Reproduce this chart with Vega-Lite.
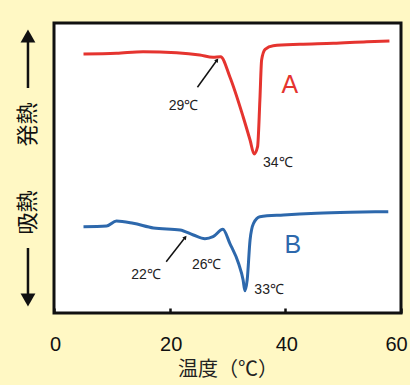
{
  "$schema": "https://vega.github.io/schema/vega-lite/v6.json",
  "width": 347,
  "height": 290,
  "autosize": {"type": "none"},
  "padding": {"left": 54, "top": 23, "right": 9, "bottom": 72},
  "background": "#FFF8C4",
  "config": {
    "view": {"stroke": "#111", "strokeWidth": 3, "fill": "white"}
  },
  "datasets": {
    "curves": [
      {"s": "A", "t": 5.1, "v": 259},
      {"s": "A", "t": 10.8, "v": 259.7},
      {"s": "A", "t": 15.4, "v": 261.3},
      {"s": "A", "t": 21.2, "v": 260.3},
      {"s": "A", "t": 25.2, "v": 258},
      {"s": "A", "t": 27.5, "v": 255.7},
      {"s": "A", "t": 28.8, "v": 256.3},
      {"s": "A", "t": 30.4, "v": 236.3},
      {"s": "A", "t": 32.7, "v": 196.3},
      {"s": "A", "t": 33.9, "v": 173},
      {"s": "A", "t": 34.6, "v": 159},
      {"s": "A", "t": 35.2, "v": 166.3},
      {"s": "A", "t": 35.6, "v": 213},
      {"s": "A", "t": 35.9, "v": 253},
      {"s": "A", "t": 36.5, "v": 263.7},
      {"s": "A", "t": 37.9, "v": 267.3},
      {"s": "A", "t": 42.5, "v": 268.7},
      {"s": "A", "t": 48.3, "v": 269.7},
      {"s": "A", "t": 54.1, "v": 271.3},
      {"s": "A", "t": 58.0, "v": 272},
      {"s": "B", "t": 5.1, "v": 86.3},
      {"s": "B", "t": 9.1, "v": 87},
      {"s": "B", "t": 10.8, "v": 92},
      {"s": "B", "t": 13.7, "v": 89.7},
      {"s": "B", "t": 17.2, "v": 85},
      {"s": "B", "t": 21.8, "v": 83},
      {"s": "B", "t": 24.1, "v": 78},
      {"s": "B", "t": 26.1, "v": 74.3},
      {"s": "B", "t": 27.5, "v": 76.3},
      {"s": "B", "t": 29.2, "v": 83.7},
      {"s": "B", "t": 30.4, "v": 69.7},
      {"s": "B", "t": 31.9, "v": 49.7},
      {"s": "B", "t": 32.7, "v": 33},
      {"s": "B", "t": 33.0, "v": 22.3},
      {"s": "B", "t": 33.4, "v": 33},
      {"s": "B", "t": 33.9, "v": 73},
      {"s": "B", "t": 34.5, "v": 89.7},
      {"s": "B", "t": 35.6, "v": 96.3},
      {"s": "B", "t": 39.7, "v": 98},
      {"s": "B", "t": 45.4, "v": 99.7},
      {"s": "B", "t": 51.2, "v": 100.7},
      {"s": "B", "t": 57.8, "v": 101.3}
    ],
    "arrows": [
      {"t": 24.8, "v": 225.7, "t2": 28.2, "v2": 253, "ang": 36},
      {"t": 19.4, "v": 51.3, "t2": 22.7, "v2": 75.7, "ang": 38}
    ],
    "sideArrows": [
      {"t": -4.5, "v": 225, "t2": -4.5, "v2": 276, "hv": 277, "shape": "triangle-up"},
      {"t": -4.5, "v": 65, "t2": -4.5, "v2": 14, "hv": 13, "shape": "triangle-down"}
    ],
    "notes": [
      {"label": "29℃", "t": 22.4, "v": 207},
      {"label": "34℃", "t": 38.7, "v": 149.7},
      {"label": "22℃", "t": 15.9, "v": 38},
      {"label": "26℃", "t": 26.4, "v": 48},
      {"label": "33℃", "t": 37.2, "v": 23}
    ],
    "names": [
      {"s": "A", "t": 40.8, "v": 228},
      {"s": "B", "t": 41.3, "v": 68}
    ]
  },
  "layer": [
    {
      "data": {"name": "curves"},
      "mark": {"type": "line", "strokeWidth": 3, "interpolate": "monotone"},
      "encoding": {
        "x": {
          "field": "t", "type": "quantitative",
          "scale": {"domain": [0, 60], "nice": false},
          "axis": {
            "values": [0, 20, 40, 60],
            "domain": false,
            "grid": false,
            "tickSize": -5,
            "tickWidth": 2.5,
            "tickColor": "#111",
            "labelFont": "Liberation Sans",
            "labelFontSize": 20,
            "labelColor": "#111",
            "labelPadding": 26,
            "labelFlush": false,
            "labelOffset": {"condition": {"test": "datum.value == 60", "value": -5}, "value": 1},
            "title": "温度（℃）",
            "titleFont": "Noto Sans CJK JP",
            "titleFontSize": 20,
            "titleFontWeight": "normal",
            "titleColor": "#222",
            "titlePadding": 5
          }
        },
        "y": {
          "field": "v", "type": "quantitative",
          "scale": {"domain": [0, 290], "nice": false, "zero": false},
          "axis": {
            "domain": false, "ticks": false, "labels": false, "grid": false,
            "title": "吸熱　　発熱",
            "titleFont": "Noto Sans CJK JP",
            "titleFontSize": 22,
            "titleFontWeight": "normal",
            "titleColor": "#111",
            "titlePadding": 15
          }
        },
        "color": {
          "field": "s", "type": "nominal",
          "scale": {"domain": ["A", "B"], "range": ["#E5342F", "#2D68AC"]},
          "legend": null
        }
      }
    },
    {
      "data": {"name": "arrows"},
      "mark": {"type": "rule", "strokeWidth": 1.5, "color": "#111"},
      "encoding": {
        "x": {"field": "t", "type": "quantitative"},
        "y": {"field": "v", "type": "quantitative"},
        "x2": {"field": "t2"},
        "y2": {"field": "v2"}
      }
    },
    {
      "data": {"name": "arrows"},
      "mark": {"type": "point", "shape": "triangle-up", "filled": true, "size": 20, "color": "#111", "opacity": 1},
      "encoding": {
        "x": {"field": "t2", "type": "quantitative"},
        "y": {"field": "v2", "type": "quantitative"},
        "angle": {"field": "ang", "type": "quantitative", "scale": null}
      }
    },
    {
      "data": {"name": "sideArrows"},
      "mark": {"type": "rule", "strokeWidth": 2.5, "color": "#111", "clip": false},
      "encoding": {
        "x": {"field": "t", "type": "quantitative"},
        "y": {"field": "v", "type": "quantitative"},
        "y2": {"field": "v2"}
      }
    },
    {
      "data": {"name": "sideArrows"},
      "mark": {"type": "point", "filled": true, "size": 220, "color": "#111", "opacity": 1, "clip": false},
      "encoding": {
        "x": {"field": "t", "type": "quantitative"},
        "y": {"field": "hv", "type": "quantitative"},
        "shape": {"field": "shape", "type": "nominal", "scale": null}
      }
    },
    {
      "data": {"name": "notes"},
      "mark": {"type": "text", "font": "Liberation Sans", "fontSize": 14, "color": "#222"},
      "encoding": {
        "x": {"field": "t", "type": "quantitative"},
        "y": {"field": "v", "type": "quantitative"},
        "text": {"field": "label"}
      }
    },
    {
      "data": {"name": "names"},
      "mark": {"type": "text", "font": "Liberation Sans", "fontSize": 25},
      "encoding": {
        "x": {"field": "t", "type": "quantitative"},
        "y": {"field": "v", "type": "quantitative"},
        "text": {"field": "s"},
        "color": {"field": "s", "type": "nominal", "legend": null}
      }
    }
  ]
}
